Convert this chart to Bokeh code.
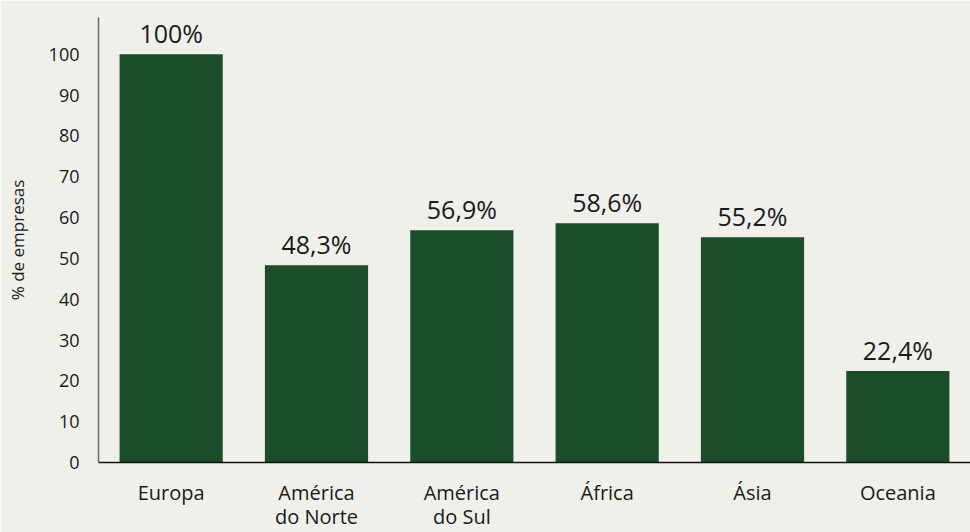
from bokeh.plotting import figure
from bokeh.models import ColumnDataSource, FactorRange, Range1d, FixedTicker
from bokeh.core.properties import value
from bokeh.embed import file_html
from bokeh.resources import INLINE

categories = ["Europa", "América\ndo Norte", "América\ndo Sul", "África", "Ásia", "Oceania"]
values = [100, 48.3, 56.9, 58.6, 55.2, 22.4]
value_labels = ["100%", "48,3%", "56,9%", "58,6%", "55,2%", "22,4%"]
y_ticks = [0, 10, 20, 30, 40, 50, 60, 70, 80, 90, 100]

BG = "#f0f0eb"
GREEN = "#1c4d2a"
TXT = "#1a1a1a"
FONT = "Open Sans"

src = ColumnDataSource(dict(cat=categories, val=values, lab=value_labels))

p = figure(x_range=FactorRange(*categories, range_padding=0),
           y_range=Range1d(0, 109),
           width=970, height=532, output_backend="svg", toolbar_location=None,
           background_fill_color=BG, border_fill_color=BG,
           min_border_left=98, min_border_right=0, min_border_top=17, min_border_bottom=69)
p.outline_line_color = None
p.grid.visible = False

p.vbar(x="cat", top="val", width=0.71, source=src, color=GREEN, line_color=None)
p.text(x="cat", y="val", text="lab", source=src, text_align="center",
       text_baseline="bottom", y_offset=-4, text_font=value(FONT),
       text_font_size="25px", text_color=TXT)

p.yaxis.ticker = FixedTicker(ticks=y_ticks)
p.yaxis.axis_line_color = "#666666"
p.yaxis.axis_line_width = 1.5
p.yaxis.major_tick_line_color = None
p.yaxis.minor_tick_line_color = None
p.yaxis.major_label_standoff = 13
p.yaxis.major_label_text_font = FONT
p.yaxis.major_label_text_font_size = "18px"
p.yaxis.major_label_text_color = TXT
p.yaxis.axis_label = "% de empresas"
p.yaxis.axis_label_text_font = FONT
p.yaxis.axis_label_text_font_size = "17px"
p.yaxis.axis_label_text_font_style = "normal"
p.yaxis.axis_label_text_color = TXT
p.yaxis.axis_label_standoff = 17

p.xaxis.axis_line_color = "#111111"
p.xaxis.axis_line_width = 1.5
p.xaxis.major_tick_line_color = None
p.xaxis.minor_tick_line_color = None
p.xaxis.major_label_standoff = 10
p.xaxis.major_label_text_font = FONT
p.xaxis.major_label_text_font_size = "20px"
p.xaxis.major_label_text_line_height = 0.9
p.xaxis.major_label_text_color = TXT

open("out.html", "w").write(file_html(p, INLINE))
